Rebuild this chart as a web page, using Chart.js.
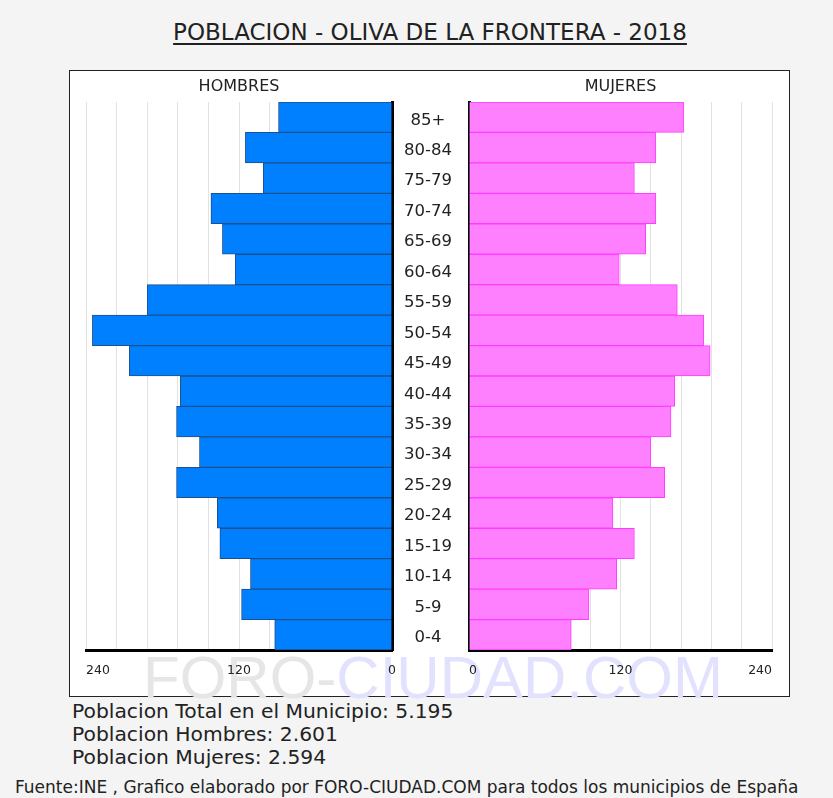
<!DOCTYPE html>
<html>
<head>
<meta charset="utf-8">
<script src="https://cdn.jsdelivr.net/npm/chart.js@4/dist/chart.umd.min.js"></script>
<style>
  html, body { margin: 0; padding: 0; background: #f4f4f4; width: 833px; height: 798px; overflow: hidden; }
  body { position: relative; font-family: "DejaVu Sans", Verdana, sans-serif; color: #222; }
  #title { position: absolute; left: 0; width: 860px; top: 19px; text-align: center; font-size: 23px;
           text-decoration: underline; text-decoration-thickness: 2px; text-underline-offset: 3px; color: #222; }
  #box { position: absolute; left: 69px; top: 70px; width: 721px; height: 627px; box-sizing: border-box;
         border: 1px solid #222; background: #fff; }
  #wm { position: absolute; left: 73px; top: 572px; font-family: "Liberation Sans", Arial, sans-serif;
        font-size: 60px; white-space: nowrap; }
  #wm .a { color: #e6e6e6; } #wm .b { color: #e2e2ff; }
  canvas { position: absolute; }
  #cl { left: 69px; top: 70px; }
  #cr { left: 395px; top: 70px; }
  .info { position: absolute; left: 72px; font-size: 20.3px; color: #222; white-space: nowrap; }
  #foot { position: absolute; left: 15px; top: 777px; font-size: 17px; color: #222; white-space: nowrap; }
</style>
</head>
<body>
<div id="title">POBLACION - OLIVA DE LA FRONTERA - 2018</div>
<div id="box"><div id="wm"><span class="a">FORO-</span><span class="b">CIUDAD.COM</span></div></div>
<canvas id="cl" width="326" height="627"></canvas>
<canvas id="cr" width="395" height="627"></canvas>
<div class="info" style="top:699px">Poblacion Total en el Municipio: 5.195</div>
<div class="info" style="top:722px">Poblacion Hombres: 2.601</div>
<div class="info" style="top:745px">Poblacion Mujeres: 2.594</div>
<div id="foot">Fuente:INE , Grafico elaborado por FORO-CIUDAD.COM para todos los municipios de España</div>
<script>
const ageGroups = ['85+','80-84','75-79','70-74','65-69','60-64','55-59','50-54','45-49','40-44','35-39','30-34','25-29','20-24','15-19','10-14','5-9','0-4'];
const hombres = [89,115,101,142,133,123,192,235,206,166,169,151,169,137,135,111,118,92];
const mujeres = [170,148,131,148,140,119,165,186,191,163,160,144,155,114,131,117,95,81];
const axisTickLabels = [0,120,240];
const axisMax = 240;
const gridStep = 24;

const tickFont = '12.5px "DejaVu Sans"';
const headFont = '16px "DejaVu Sans"';

function labelPlugin(side) {
  return {
    id: 'labels' + side,
    afterDraw(chart) {
      const ctx = chart.ctx, xs = chart.scales.x, ca = chart.chartArea;
      ctx.save();
      ctx.fillStyle = '#222';
      ctx.font = tickFont;
      ctx.textBaseline = 'middle';
      axisTickLabels.forEach(v => {
        const px = xs.getPixelForValue(v);
        let align = 'center';
        if (side === 'L' && v === axisMax) align = 'left';
        if (side === 'R' && v === 0) align = 'left';
        if (side === 'R' && v === axisMax) align = 'right';
        ctx.textAlign = align;
        ctx.fillText(String(v), px, ca.bottom + 21);
      });
      ctx.font = headFont;
      ctx.textAlign = 'center';
      ctx.fillText(side === 'L' ? 'HOMBRES' : 'MUJERES', (ca.left + ca.right) / 2, ca.top - 15);
      ctx.restore();
    }
  };
}

const zeroH = s => { s.height = 0; };

new Chart(document.getElementById('cl'), {
  type: 'bar',
  data: { labels: ageGroups, datasets: [{ data: hombres, backgroundColor: '#0080ff', borderColor: '#1d4f8c', borderWidth: 1,
          barPercentage: 1, categoryPercentage: 1 }] },
  options: {
    indexAxis: 'y', responsive: false, animation: false,
    layout: { padding: { left: 17, right: 3, top: 32, bottom: 47 } },
    plugins: { legend: { display: false }, tooltip: { enabled: false } },
    scales: {
      x: { reverse: true, min: 0, max: axisMax, afterFit: zeroH,
           ticks: { display: false, stepSize: gridStep },
           grid: { color: '#e2e2e2', drawTicks: false, lineWidth: 1 },
           border: { display: true, color: '#000', width: 3 } },
      y: { position: 'right', afterFit: s => { s.width = 0; },
           ticks: { display: false }, grid: { display: false, drawTicks: false },
           border: { display: true, color: '#000', width: 3 } }
    }
  },
  plugins: [labelPlugin('L')]
});

new Chart(document.getElementById('cr'), {
  type: 'bar',
  data: { labels: ageGroups, datasets: [{ data: mujeres, backgroundColor: '#ff80ff', borderColor: '#ff3cff', borderWidth: 1,
          barPercentage: 1, categoryPercentage: 1 }] },
  options: {
    indexAxis: 'y', responsive: false, animation: false,
    layout: { padding: { left: 0, right: 18, top: 32, bottom: 47 } },
    plugins: { legend: { display: false }, tooltip: { enabled: false } },
    scales: {
      x: { min: 0, max: axisMax, afterFit: zeroH,
           ticks: { display: false, stepSize: gridStep },
           grid: { color: '#e2e2e2', drawTicks: false, lineWidth: 1 },
           border: { display: true, color: '#000', width: 3 } },
      y: { position: 'left', afterFit: s => { s.width = 74; },
           ticks: { crossAlign: 'center', padding: 17, labelOffset: 3, color: '#222', font: { family: 'DejaVu Sans', size: 16.5 } },
           grid: { display: false, drawTicks: false },
           border: { display: true, color: '#000', width: 3 } }
    }
  },
  plugins: [labelPlugin('R')]
});
</script>
</body>
</html>
